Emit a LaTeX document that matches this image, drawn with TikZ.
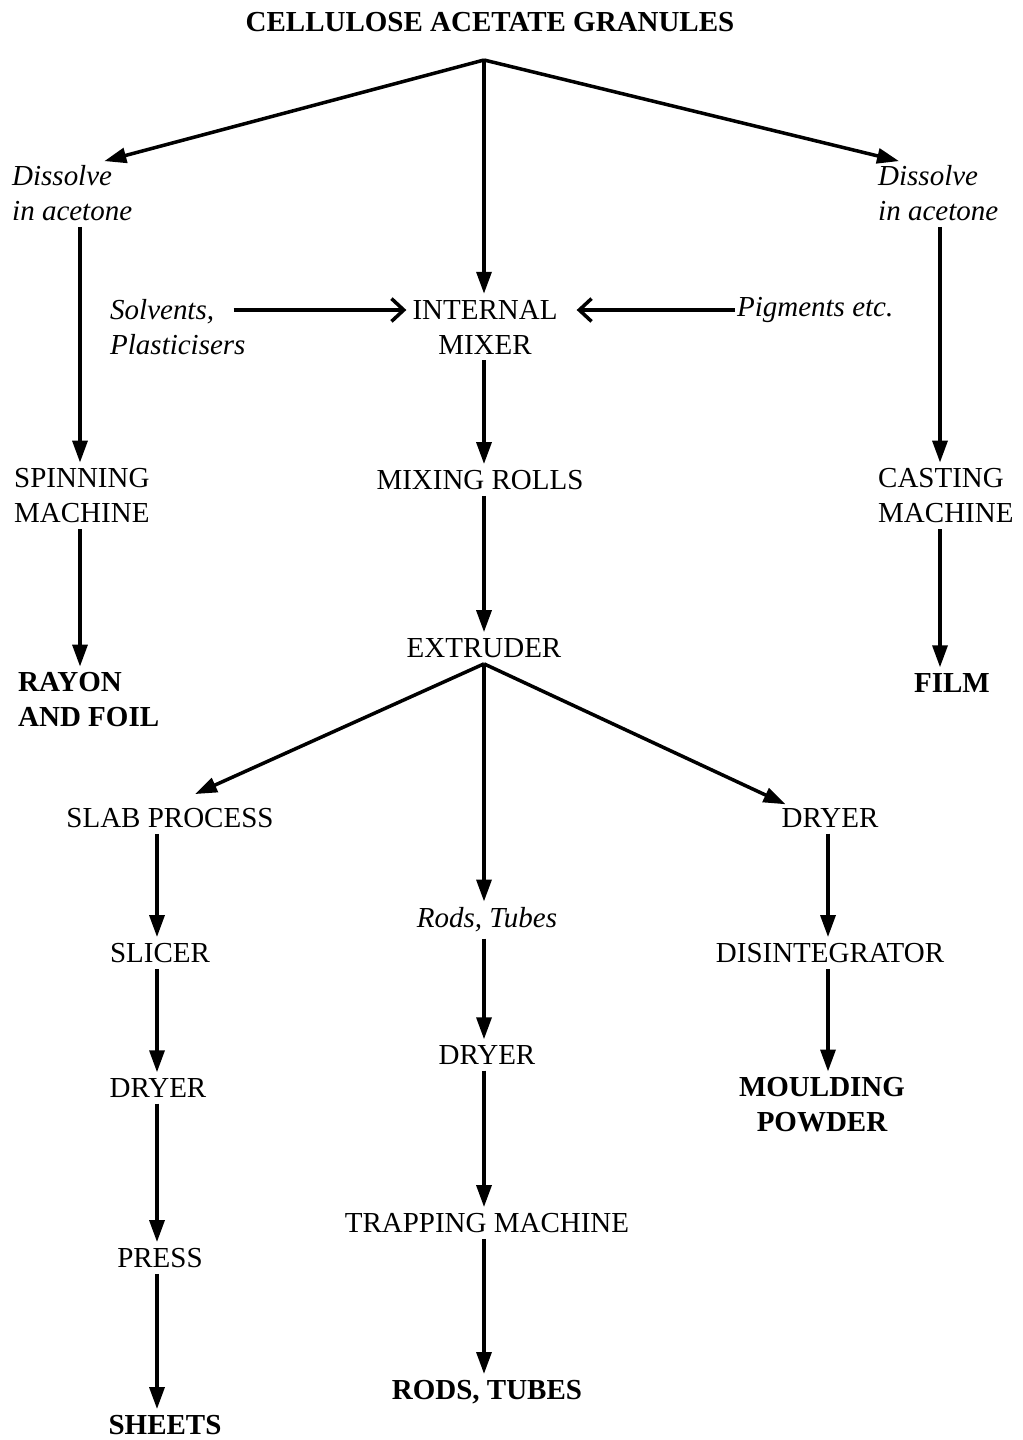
\documentclass[tikz,border=0pt]{standalone}
\usepackage{fontspec}
\setmainfont{Liberation Serif}
\usetikzlibrary{arrows.meta,calc}

\begin{document}
\begin{tikzpicture}[x=0.02cm, y=-0.02cm,
    font=\fontsize{16.5}{19.9}\selectfont,
    proc/.style={align=center},
    prod/.style={align=center, font=\fontsize{16.5}{19.9}\selectfont\bfseries},
    note/.style={align=left, font=\fontsize{16.5}{19.9}\selectfont\itshape},
    flow/.style={-{Triangle[length=12.5pt,width=8.5pt]}, line width=2pt},
    feed/.style={-{Straight Barb[length=7pt,width=13pt]}, line width=2pt}]
    \useasboundingbox (0,0) rectangle (1023,1440);
    % columns of the vertical arrows
    \coordinate (colA) at (80,0);
    \coordinate (colB) at (157,0);
    \coordinate (colC) at (484,0);
    \coordinate (colD) at (828,0);
    \coordinate (colE) at (940,0);
    % upper part
    \node[prod] (granules) at (490,22) {CELLULOSE ACETATE GRANULES};
    \coordinate (fork) at (484,60);
    \node[note, anchor=west] (dissL) at (6,193) {Dissolve\\in acetone};
    \node[note, anchor=west] (dissR) at (872,193) {Dissolve\\in acetone};
    \node[note, anchor=west] (solv) at (104,327) {Solvents,\\Plasticisers};
    \node[proc] (mixer) at (485,327) {INTERNAL\\MIXER};
    \node[note, anchor=west, inner xsep=1pt] (pig) at (735,310) {Pigments etc.};
    \node[proc, align=left, anchor=west] (spin) at (8,496) {SPINNING\\MACHINE};
    \node[proc] (rolls) at (480,480) {MIXING ROLLS};
    \node[proc, align=left, anchor=west] (cast) at (872,496) {CASTING\\MACHINE};
    \node[prod, align=left, anchor=west] (rayon) at (12,700) {RAYON\\AND FOIL};
    \node[prod] (film) at (952,683) {FILM};
    \node[proc] (extr) at (484,648) {EXTRUDER};
    % lower part
    \node[proc] (slab) at (170,818) {SLAB PROCESS};
    \node[note] (rods) at (487,920) {Rods, Tubes};
    \node[proc] (dryR) at (830,818) {DRYER};
    \node[proc] (slicer) at (160,953) {SLICER};
    \node[proc] (disint) at (830,953) {DISINTEGRATOR};
    \node[proc] (dryL) at (158,1088) {DRYER};
    \node[proc] (dryM) at (487,1055) {DRYER};
    \node[prod] (mould) at (822,1105) {MOULDING\\POWDER};
    \node[proc] (press) at (160,1258) {PRESS};
    \node[proc] (trap) at (487,1223) {TRAPPING MACHINE};
    \node[prod] (sheets) at (165,1425) {SHEETS};
    \node[prod] (rodsout) at (487,1392) {RODS, TUBES};

    \draw[flow] (fork) -- ($(dissL.north east)+(-34,2)$);
    \draw[flow] (fork) -- (mixer.north -| colC);
    \draw[flow] (fork) -- ($(dissR.north west)+(27,2)$);
    \draw[flow] (dissL.south -| colA) -- (spin.north -| colA);
    \draw[flow] (dissR.south -| colE) -- (cast.north -| colE);
    \draw[feed] ($(solv.east)+(-18,-17)$) -- ($(mixer.west)+(0,-17)$);
    \draw[feed] (pig.west) -- ($(mixer.east)+(13,-17)$);
    \draw[flow] (mixer.south -| colC) -- (rolls.north -| colC);
    \draw[flow] (spin.south -| colA) -- (rayon.north -| colA);
    \draw[flow] (cast.south -| colE) -- (film.north -| colE);
    \draw[flow] (rolls.south -| colC) -- (extr.north -| colC);
    \draw[flow] (extr.south) -- ($(slab.north)+(25,-8)$);
    \draw[flow] (extr.south) -- (rods.north -| colC);
    \draw[flow] (extr.south) -- ($(dryR.north west)+(10,2)$);
    \draw[flow] (slab.south -| colB) -- (slicer.north -| colB);
    \draw[flow] (slicer.south -| colB) -- (dryL.north -| colB);
    \draw[flow] (dryL.south -| colB) -- (press.north -| colB);
    \draw[flow] (press.south -| colB) -- (sheets.north -| colB);
    \draw[flow] (rods.south -| colC) -- (dryM.north -| colC);
    \draw[flow] (dryM.south -| colC) -- (trap.north -| colC);
    \draw[flow] (trap.south -| colC) -- (rodsout.north -| colC);
    \draw[flow] (dryR.south -| colD) -- (disint.north -| colD);
    \draw[flow] (disint.south -| colD) -- (mould.north -| colD);
\end{tikzpicture}
\end{document}
